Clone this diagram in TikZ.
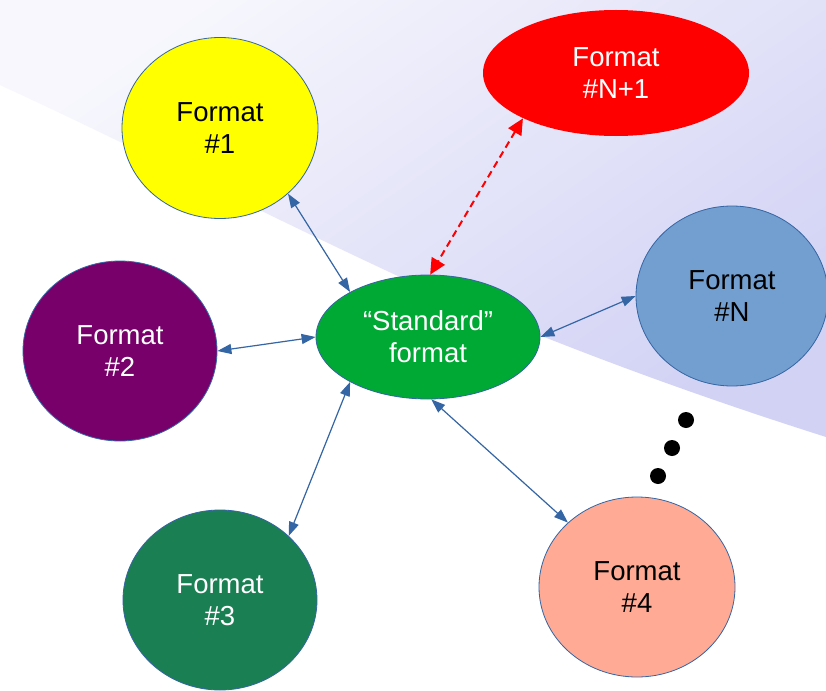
\documentclass[tikz,border=0pt]{standalone}
\usepackage{fontspec}
\setmainfont{Liberation Sans}
\usetikzlibrary{arrows.meta,shapes.geometric}

\definecolor{edgeblue}{HTML}{3465A4}
\definecolor{fmtyellow}{HTML}{FFFF00}
\definecolor{fmtred}{HTML}{FF0000}
\definecolor{fmtpurple}{HTML}{77006B}
\definecolor{fmtgreen}{HTML}{00A933}
\definecolor{fmtblue}{HTML}{729FCF}
\definecolor{fmtdark}{HTML}{1A7F52}
\definecolor{fmtsalmon}{HTML}{FFAA95}
\definecolor{bglight}{HTML}{F7F7FD}
\definecolor{bgdark}{HTML}{D2D2F5}

\tikzset{
  fmt/.style={ellipse, draw=edgeblue, line width=0.8pt, inner sep=0pt,
    align=center, font=\fontsize{27.5}{32}\selectfont},
  link/.style={draw=edgeblue, line width=1.2pt,
    {Triangle[length=14pt,width=10pt]}-{Triangle[length=14pt,width=10pt]}},
  newlink/.style={draw=fmtred, line width=2pt, dash pattern=on 7pt off 4.5pt,
    {Triangle[length=16pt,width=15pt]}-{Triangle[length=16pt,width=15pt]}},
  dotmark/.style={circle, fill=black, minimum size=16pt, inner sep=0pt},
}

\begin{document}
\begin{tikzpicture}[x=1pt,y=-1pt]
\useasboundingbox (0,0) rectangle (826,690);
\fill[white] (0,0) rectangle (826,690);

% lavender swoosh across the upper right
\shade[top color=bglight, bottom color=bgdark, shading angle=35]
  (0,0) -- (826,0) -- (826,437)
  .. controls (700,397) and (560,347) .. (400,277)
  .. controls (260,212) and (120,140) .. (0,85) -- cycle;

% format nodes
\node[fmt, fill=fmtyellow, minimum width=196pt, minimum height=181pt] (f1) at (220,128) {Format\\\#1};
\node[fmt, fill=fmtred, draw=none, text=white, minimum width=266pt, minimum height=126pt] (fn1) at (616,73) {Format\\\#N+1};
\node[fmt, fill=fmtpurple, text=white, minimum width=194pt, minimum height=180pt] (f2) at (120,351) {Format\\\#2};
\node[fmt, fill=fmtgreen, text=white, minimum width=224pt, minimum height=124pt] (std) at (428,337) {“Standard”\\format};
\node[fmt, fill=fmtblue, minimum width=192pt, minimum height=180pt] (fn) at (732,296) {Format\\\#N};
\node[fmt, fill=fmtdark, text=white, minimum width=194pt, minimum height=180pt] (f3) at (220,600) {Format\\\#3};
\node[fmt, fill=fmtsalmon, minimum width=196pt, minimum height=180pt] (f4) at (637,587) {Format\\\#4};

% ellipsis between #4 and #N
\node[dotmark] (d1) at (686,420) {};
\node[dotmark] (d2) at (672,448) {};
\node[dotmark] (d3) at (658,476) {};

% connectors
\draw[link] (f1.-44) -- (std.150);
\draw[link] (f2.0) -- (std.180);
\draw[link] (std.0) -- (fn.180);
\draw[link] (std.210) -- (f3.43);
\draw[link] (std.273) -- (f4.137);
\draw[newlink] (fn1.206) -- (std.88);
\end{tikzpicture}
\end{document}
